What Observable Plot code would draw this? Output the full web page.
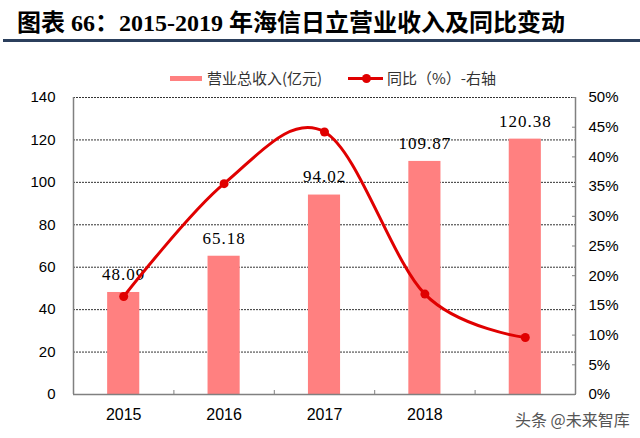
<!DOCTYPE html>
<html><head><meta charset="utf-8">
<script src="https://cdn.jsdelivr.net/npm/d3@7"></script>
<script src="https://cdn.jsdelivr.net/npm/@observablehq/plot@0.6"></script>
<style>
body{margin:0;width:640px;height:438px;position:relative;overflow:hidden;background:#fff;font-family:"Noto Sans CJK SC",sans-serif}
#title{position:absolute;left:17px;top:8px;line-height:30px;font-weight:700;font-size:24px;font-family:"Liberation Serif","Noto Sans CJK SC",serif;color:#000;white-space:nowrap}
#rule{position:absolute;left:3px;right:0;top:39px;height:3px;background:#2b3f5c}
.lg{position:absolute;font-size:15px;color:#333;line-height:20px;top:68px;white-space:nowrap}
#sw1{position:absolute;left:170px;top:76px;width:32px;height:5px;background:#ff8080}
#sw2{position:absolute;left:348px;top:77px;width:35px;height:3px;background:#e00000}
#sw2dot{position:absolute;left:362px;top:74px;width:9px;height:9px;border-radius:50%;background:#e00000}
#wm{position:absolute;left:515px;top:407px;font-size:16px;color:#555;white-space:nowrap}
#chart{position:absolute;left:0;top:85px}
g[font-family="Liberation Serif"] text{letter-spacing:1px}
</style></head>
<body>
<div id="title">图表 66：2015-2019 年海信日立营业收入及同比变动</div>
<div id="rule"></div>
<div id="sw1"></div><div class="lg" style="left:207px">营业总收入(亿元)</div>
<div id="sw2"></div><div id="sw2dot"></div><div class="lg" style="left:387px">同比（%）-右轴</div>
<div id="chart"></div>
<div id="wm">头条 @未来智库</div>
<script>
const years = [2015, 2016, 2017, 2018, 2019];
const revenue = [48.09, 65.18, 94.02, 109.87, 120.38];
const yoy = [16.5, 35.5, 44.2, 16.9, 9.6];
// the 2019 category label is covered by the watermark in the reference
const xTickLabels = [2015, 2016, 2017, 2018];
const leftTicks = [0, 20, 40, 60, 80, 100, 120, 140];
const rightTicks = [0, 5, 10, 15, 20, 25, 30, 35, 40, 45, 50];
const xDomain = [2014.5, 2019.5];
const boundaries = [2015.5, 2016.5, 2017.5, 2018.5];
const k = 140 / 50;
const halfBar = 0.16;

const data = years.map((y, i) => ({year: y, rev: revenue[i], yoy: yoy[i]}));

const plot = Plot.plot({
  width: 640, height: 353,
  marginTop: 12, marginBottom: 44, marginLeft: 73, marginRight: 65,
  style: {fontFamily: "Liberation Sans, Arial, sans-serif", fontSize: "15px", color: "#000", background: "transparent"},
  x: {domain: xDomain, axis: null},
  y: {domain: [0, 140], axis: null},
  marks: [
    Plot.ruleY(leftTicks.filter(d => d > 0), {stroke: "#333", strokeWidth: 1, strokeDasharray: "2,1"}),
    Plot.rectY(data, {x1: d => d.year - halfBar, x2: d => d.year + halfBar, y: "rev", fill: "#ff8080"}),
    Plot.ruleX(xDomain, {stroke: "#808080", strokeWidth: 1.5}),
    Plot.ruleY([0], {stroke: "#808080", strokeWidth: 1.5}),
    Plot.axisY(leftTicks, {anchor: "left", label: null, tickSize: 0, tickPadding: 18, fontSize: 15}),
    Plot.axisY(rightTicks, {anchor: "right", label: null, y: d => d * k, tickFormat: d => d + "%", tickSize: -4, tickPadding: 17, stroke: "#808080", fontSize: 15}),
    Plot.axisX(xTickLabels, {anchor: "bottom", label: null, tickSize: 0, tickPadding: 14, tickFormat: d => String(d), fontSize: 16}),
    Plot.axisX(boundaries, {anchor: "bottom", label: null, tickSize: -4, tickPadding: 0, tickFormat: () => "", stroke: "#808080"}),
    Plot.text(data, {x: "year", y: "rev", text: d => d.rev.toFixed(2), dy: -18, fontFamily: "Liberation Serif", fontSize: 17, fill: "#000"}),
    Plot.line(data, {x: "year", y: d => d.yoy * k, stroke: "#e00000", strokeWidth: 3, curve: "cardinal"}),
    Plot.dot(data, {x: "year", y: d => d.yoy * k, r: 4.5, fill: "#e00000"})
  ]
});
document.getElementById("chart").appendChild(plot);
</script>
</body></html>
